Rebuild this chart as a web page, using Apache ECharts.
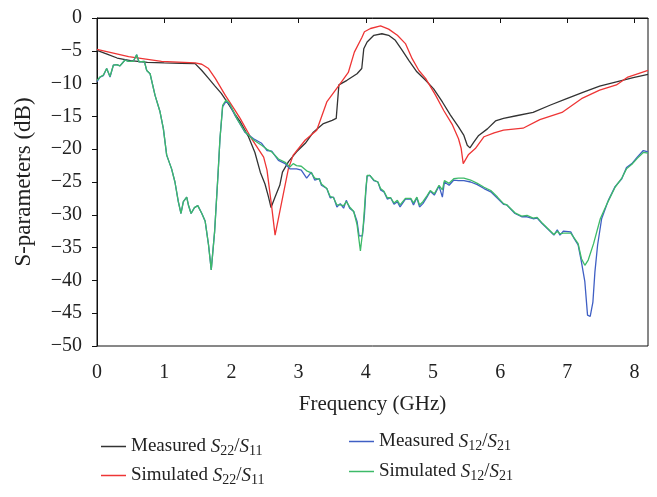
<!DOCTYPE html>
<html>
<head>
<meta charset="utf-8">
<script src="https://cdn.jsdelivr.net/npm/echarts@6/dist/echarts.min.js"></script>
<style>html,body{margin:0;padding:0;background:#fff}#c{width:657px;height:497px}</style>
</head>
<body>
<div id="c"></div>
<script>
// x tick labels (GHz) and y tick labels (dB)
var xTicks = [0, 1, 2, 3, 4, 5, 6, 7, 8];
var yTicks = [0, -5, -10, -15, -20, -25, -30, -35, -40, -45, -50];

var seriesNames = ['Measured S22/S11', 'Simulated S22/S11', 'Measured S12/S21', 'Simulated S12/S21'];

// [frequency GHz, dB]
var measuredS11 = [[0,-4.95],[0.15,-5.5],[0.3,-6.1],[0.5,-6.5],[0.75,-6.75],[1.0,-6.85],[1.25,-6.9],[1.46,-6.95],[1.56,-8.0],[1.66,-9.2],[1.75,-10.3],[1.85,-11.5],[1.95,-13.0],[2.05,-14.6],[2.13,-15.8],[2.25,-18.0],[2.35,-20.5],[2.43,-23.5],[2.5,-25.3],[2.55,-27.2],[2.59,-28.9],[2.65,-27.3],[2.72,-25.5],[2.76,-23.5],[2.85,-21.9],[2.97,-20.4],[3.1,-19.1],[3.22,-17.4],[3.37,-16.1],[3.5,-15.6],[3.56,-15.3],[3.6,-10.2],[3.72,-9.5],[3.87,-8.5],[3.94,-7.7],[3.97,-4.7],[4.02,-3.65],[4.12,-2.64],[4.24,-2.4],[4.34,-2.64],[4.44,-3.4],[4.54,-4.9],[4.64,-6.45],[4.76,-8.2],[4.89,-9.5],[5.01,-10.8],[5.14,-12.8],[5.26,-14.8],[5.38,-16.6],[5.46,-17.9],[5.51,-19.4],[5.55,-19.8],[5.61,-18.9],[5.68,-17.9],[5.81,-16.9],[5.93,-15.7],[6.05,-15.3],[6.24,-14.9],[6.49,-14.4],[6.74,-13.3],[6.99,-12.3],[7.24,-11.3],[7.48,-10.4],[7.73,-9.75],[7.98,-9.1],[8.2,-8.6]];

var simulatedS11 = [[0,-4.8],[0.47,-5.9],[0.96,-6.6],[1.46,-6.85],[1.56,-7.05],[1.66,-7.7],[1.76,-9.2],[1.91,-11.8],[2.05,-14.0],[2.13,-15.3],[2.3,-18.4],[2.48,-21.2],[2.53,-23.2],[2.6,-28.8],[2.65,-33.1],[2.75,-28],[2.85,-22.9],[2.92,-20.9],[3.1,-18.6],[3.27,-17.1],[3.42,-12.8],[3.62,-10],[3.74,-8.3],[3.83,-5.2],[3.94,-3.0],[3.98,-2.1],[4.07,-1.6],[4.22,-1.2],[4.34,-1.7],[4.47,-2.64],[4.59,-3.9],[4.69,-6.2],[4.79,-8.0],[4.89,-9.2],[5.04,-11.8],[5.16,-14.1],[5.29,-16.3],[5.38,-18.4],[5.42,-19.9],[5.45,-22.2],[5.53,-20.8],[5.63,-19.9],[5.76,-18.1],[5.91,-17.5],[6.05,-17.1],[6.34,-16.8],[6.59,-15.5],[6.92,-14.4],[7.21,-12.3],[7.48,-11.0],[7.73,-10.2],[7.9,-9.0],[8.2,-8.0]];

var measuredS21 = [[0,-9.7],[0.045,-9.0],[0.094,-8.8],[0.144,-7.7],[0.194,-9.0],[0.243,-7.2],[0.293,-7.1],[0.342,-7.3],[0.417,-6.4],[0.467,-6.6],[0.541,-6.6],[0.59,-5.6],[0.625,-6.7],[0.705,-6.6],[0.74,-8.0],[0.79,-8.5],[0.864,-11.8],[0.938,-14.3],[0.988,-16.9],[1.037,-20.9],[1.11,-23],[1.16,-25],[1.21,-28],[1.25,-29.8],[1.285,-28],[1.335,-27.3],[1.36,-28.5],[1.40,-29.8],[1.45,-28.9],[1.50,-28.6],[1.56,-29.8],[1.61,-31],[1.66,-34.6],[1.70,-38.4],[1.75,-32.6],[1.80,-24],[1.83,-18.4],[1.87,-13.5],[1.92,-12.7],[1.97,-13.1],[2.05,-14.8],[2.08,-15.3],[2.20,-17.4],[2.33,-18.4],[2.45,-19.1],[2.53,-20.2],[2.6,-20.3],[2.70,-21.7],[2.80,-22.2],[2.87,-23.0],[2.97,-23.0],[3.04,-23.2],[3.12,-24.4],[3.19,-23.5],[3.24,-24.7],[3.31,-24.5],[3.34,-25.5],[3.42,-26],[3.47,-27.4],[3.52,-27.3],[3.57,-28.8],[3.62,-28.3],[3.67,-29],[3.71,-27.8],[3.76,-29],[3.82,-29.5],[3.87,-31],[3.90,-33.2],[3.95,-33.2],[3.98,-30],[4.0,-26.5],[4.02,-24.1],[4.06,-24],[4.12,-24.8],[4.18,-25],[4.22,-26.2],[4.27,-26.5],[4.32,-27.6],[4.37,-27.4],[4.42,-28.4],[4.47,-28],[4.51,-28.8],[4.59,-27.6],[4.67,-27.6],[4.71,-28.5],[4.76,-27.4],[4.80,-28.8],[4.85,-28.3],[4.91,-27.3],[4.96,-26.4],[5.02,-27],[5.09,-25.6],[5.14,-27.3],[5.17,-25],[5.24,-25.5],[5.31,-24.7],[5.38,-24.8],[5.46,-24.8],[5.56,-25],[5.66,-25.4],[5.76,-26],[5.86,-26.5],[5.96,-27.5],[6.05,-28.4],[6.1,-28.5],[6.22,-29.8],[6.32,-30.3],[6.4,-30.3],[6.49,-30.6],[6.55,-30.5],[6.62,-31.3],[6.72,-32.3],[6.8,-33.1],[6.85,-32.3],[6.89,-33.1],[6.94,-32.5],[7.05,-32.6],[7.1,-33.6],[7.16,-34.6],[7.21,-37.2],[7.26,-40.2],[7.30,-45.3],[7.34,-45.5],[7.38,-43.3],[7.41,-38.7],[7.45,-34.6],[7.51,-30.6],[7.61,-27.8],[7.71,-25.7],[7.81,-24.5],[7.88,-22.8],[7.96,-22.2],[8.04,-21.2],[8.13,-20.2],[8.2,-20.4]];

var simulatedS21 = [[0,-9.5],[0.045,-9.0],[0.094,-8.7],[0.144,-7.7],[0.194,-8.9],[0.243,-7.2],[0.293,-7.1],[0.342,-7.3],[0.417,-6.4],[0.467,-6.6],[0.541,-6.6],[0.59,-5.6],[0.625,-6.7],[0.705,-6.6],[0.74,-8.0],[0.79,-8.5],[0.864,-11.8],[0.938,-14.3],[0.988,-16.9],[1.037,-20.9],[1.11,-23],[1.16,-25],[1.21,-28],[1.25,-29.8],[1.285,-28],[1.335,-27.3],[1.36,-28.5],[1.40,-29.8],[1.45,-28.9],[1.50,-28.6],[1.56,-29.8],[1.61,-31],[1.66,-34.6],[1.70,-38.4],[1.75,-32.6],[1.80,-24],[1.83,-18.4],[1.87,-13.3],[1.92,-12.5],[1.97,-13.0],[2.05,-14.6],[2.08,-15.3],[2.20,-17.3],[2.33,-18.6],[2.45,-19.4],[2.53,-20.0],[2.6,-20.4],[2.70,-21.5],[2.80,-22.0],[2.87,-22.7],[2.92,-22.2],[2.97,-22.5],[3.04,-22.6],[3.12,-23.3],[3.19,-23.6],[3.24,-24.4],[3.31,-24.6],[3.34,-25.3],[3.42,-26],[3.47,-27.2],[3.52,-27.4],[3.57,-28.5],[3.62,-28.5],[3.67,-28.6],[3.71,-28.0],[3.76,-28.8],[3.82,-29.5],[3.87,-31.5],[3.92,-35.5],[3.96,-32],[4.0,-26.2],[4.02,-24.0],[4.06,-24],[4.12,-24.7],[4.18,-25],[4.22,-26.0],[4.27,-26.4],[4.32,-27.4],[4.37,-27.4],[4.42,-28.2],[4.47,-27.8],[4.51,-28.5],[4.59,-27.5],[4.67,-27.5],[4.71,-28.2],[4.76,-27.3],[4.80,-28.5],[4.85,-28.0],[4.91,-27.1],[4.96,-26.3],[5.02,-26.8],[5.09,-25.5],[5.14,-26.2],[5.17,-24.8],[5.24,-25.2],[5.31,-24.5],[5.38,-24.4],[5.46,-24.4],[5.56,-24.7],[5.66,-25.2],[5.76,-25.8],[5.86,-26.3],[5.96,-27.3],[6.05,-28.3],[6.1,-28.5],[6.22,-29.7],[6.32,-30.2],[6.4,-30.1],[6.49,-30.5],[6.55,-30.4],[6.62,-31.2],[6.72,-32.2],[6.8,-33.0],[6.85,-32.5],[6.89,-32.9],[6.94,-32.8],[7.05,-32.8],[7.1,-33.5],[7.16,-34.4],[7.21,-36.7],[7.26,-37.7],[7.31,-36.9],[7.39,-34.4],[7.49,-30.6],[7.59,-28.3],[7.71,-25.8],[7.81,-24.4],[7.88,-23.0],[7.96,-22.3],[8.04,-21.4],[8.13,-20.5],[8.2,-20.6]];

var colors = ['#333333', '#ee3535', '#3f5fc4', '#3dba68'];
var serif = '"Liberation Serif", "DejaVu Serif", serif';

var legendRich = {
  n: { fontFamily: serif, fontSize: 19, color: '#222', lineHeight: 22 },
  i: { fontFamily: serif, fontSize: 19, color: '#222', fontStyle: 'italic', lineHeight: 22 },
  s: { fontFamily: serif, fontSize: 14, color: '#222', lineHeight: 14, padding: [9, 0, 0, 0] }
};
function legendFmt(name) {
  var parts = name.split(' ');
  var m = parts[1].match(/S(\d+)\/S(\d+)/);
  return '{n|' + parts[0] + ' }{i|S}{s|' + m[1] + '}{n|/}{i|S}{s|' + m[2] + '}';
}
function minus(v) { return v < 0 ? '\u2212' + Math.abs(v) : String(v); }

var chart = echarts.init(document.getElementById('c'), null, { renderer: 'canvas' });
var data = [measuredS11, simulatedS11, measuredS21, simulatedS21];
chart.setOption({
  animation: false,
  backgroundColor: '#fff',
  grid: { left: 97, right: 9, top: 18, bottom: 151, show: true, borderColor: '#111', borderWidth: 1 },
  xAxis: {
    type: 'value', min: 0, max: 8.2,
    name: 'Frequency (GHz)', nameLocation: 'middle', nameGap: 48,
    nameTextStyle: { fontFamily: serif, fontSize: 21, color: '#222' },
    axisLine: { show: true, lineStyle: { color: '#111', width: 1 } },
    axisTick: { show: true, length: 5, customValues: xTicks, lineStyle: { color: '#111' } },
    axisLabel: { customValues: xTicks, margin: 17, fontFamily: serif, fontSize: 20, color: '#222' },
    splitLine: { show: false }
  },
  yAxis: {
    type: 'value', min: -50, max: 0, interval: 5,
    name: 'S-parameters (dB)', nameLocation: 'middle', nameGap: 62, nameRotate: 90,
    nameTextStyle: { fontFamily: serif, fontSize: 23, color: '#222' },
    axisLine: { show: true, lineStyle: { color: '#111', width: 1 } },
    axisTick: { show: true, length: 5, customValues: yTicks, lineStyle: { color: '#111' } },
    axisLabel: { customValues: yTicks, margin: 15, fontFamily: serif, fontSize: 20, color: '#222', formatter: minus },
    splitLine: { show: false }
  },
  legend: [
    { data: [seriesNames[0], seriesNames[1]], orient: 'vertical', left: 96, top: 430, icon: 'rect', itemWidth: 25, itemHeight: 1.5, itemGap: 6,
      formatter: legendFmt, textStyle: { rich: legendRich } },
    { data: [seriesNames[2], seriesNames[3]], orient: 'vertical', left: 344, top: 425, icon: 'rect', itemWidth: 25, itemHeight: 1.5, itemGap: 7,
      formatter: legendFmt, textStyle: { rich: legendRich } }
  ],
  series: seriesNames.map(function (nm, k) {
    return {
      name: nm, type: 'line', data: data[k], symbol: 'none', smooth: false,
      lineStyle: { color: colors[k], width: 1.3 }, itemStyle: { color: colors[k] },
      z: 2 + k
    };
  })
});
</script>
</body>
</html>
